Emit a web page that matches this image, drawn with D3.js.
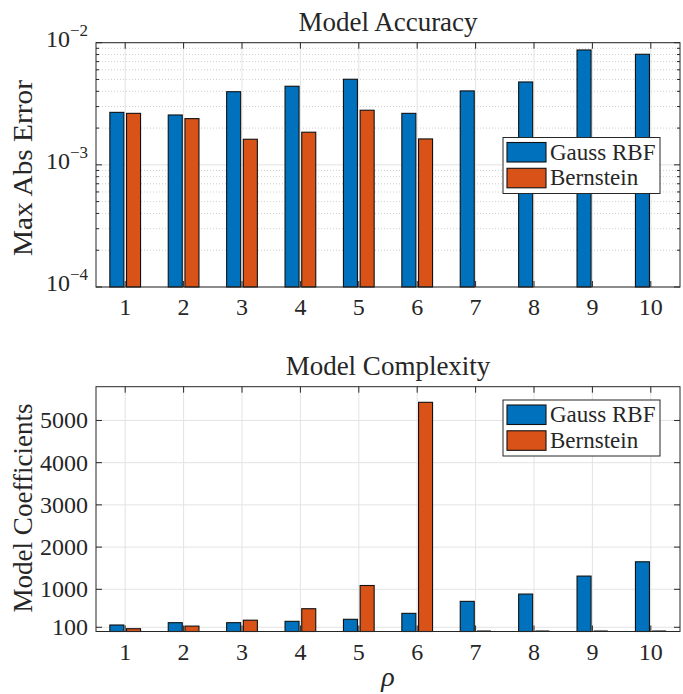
<!doctype html>
<html>
<head>
<meta charset="utf-8">
<title>Model Accuracy / Complexity</title>
<script src="https://cdn.jsdelivr.net/npm/d3@7"></script>
<style>
  html, body { margin: 0; padding: 0; background: #fff; }
  svg text { font-family: "Liberation Serif", "Times New Roman", serif; fill: #262626; }
</style>
</head>
<body>
<div id="fig"></div>
<script>
// data
var categories = [1, 2, 3, 4, 5, 6, 7, 8, 9, 10];
var seriesNames = ["Gauss RBF", "Bernstein"];
var accRBF  = [2.69e-3, 2.56e-3, 3.97e-3, 4.40e-3, 5.02e-3, 2.64e-3, 4.03e-3, 4.77e-3, 8.72e-3, 8.04e-3];
var accBern = [2.64e-3, 2.39e-3, 1.62e-3, 1.85e-3, 2.80e-3, 1.63e-3, null, null, null, null];
var coefRBF  = [154, 209, 209, 241, 289, 430, 714, 887, 1313, 1652];
var coefBern = [66, 128, 268, 540, 1090, 5430, 0, 0, 0, 0];
var accTicks  = [1e-4, 1e-3, 1e-2];
var accExp    = ["\u22124", "\u22123", "\u22122"];
var coefTicks = [100, 1000, 2000, 3000, 4000, 5000];
var colors = ["#0072BD", "#D95319"];

var W = 683, H = 694;
var svg = d3.select("#fig").append("svg").attr("width", W).attr("height", H);

var left = 96, right = 680;
var x = d3.scaleLinear().domain([0.5, 10.5]).range([left, right]);
var barW = 0.24, barOff = 0.143; // in category units
var axisCol = "#262626", gridCol = "#e3e3e3";

function panel(opt) {
  var g = svg.append("g");
  var y = opt.y, top = opt.top, bot = opt.bottom;

  // minor grid (log only)
  if (opt.minor) {
    g.selectAll(".mg").data(opt.minor).enter().append("line")
      .attr("x1", left).attr("x2", right)
      .attr("y1", function(d){ return y(d); }).attr("y2", function(d){ return y(d); })
      .attr("stroke", "#c8c8c8").attr("stroke-width", 0.9).attr("stroke-dasharray", "1,2");
  }
  // major grid
  g.selectAll(".hg").data(opt.ticks).enter().append("line")
    .attr("x1", left).attr("x2", right)
    .attr("y1", function(d){ return y(d); }).attr("y2", function(d){ return y(d); })
    .attr("stroke", gridCol).attr("stroke-width", 1);
  g.selectAll(".vg").data(categories).enter().append("line")
    .attr("x1", function(d){ return x(d); }).attr("x2", function(d){ return x(d); })
    .attr("y1", top).attr("y2", bot)
    .attr("stroke", gridCol).attr("stroke-width", 1);

  // bars
  var base = y.range()[0];
  [opt.a, opt.b].forEach(function(vals, s) {
    var off = s === 0 ? -barOff : barOff;
    vals.forEach(function(v, i) {
      if (v === null) return;
      var cx = categories[i] + off;
      var x0 = x(cx - barW / 2), x1 = x(cx + barW / 2);
      if (v <= 0) {
        g.append("line").attr("x1", x0).attr("x2", x1).attr("y1", base - 0.5).attr("y2", base - 0.5)
          .attr("stroke", "#000").attr("stroke-width", 1);
        return;
      }
      g.append("rect").attr("x", x0).attr("y", y(v))
        .attr("width", x1 - x0).attr("height", base - y(v))
        .attr("fill", colors[s]).attr("stroke", "#111").attr("stroke-width", 1.1);
    });
  });

  // box
  g.append("rect").attr("x", left).attr("y", top).attr("width", right - left).attr("height", bot - top)
    .attr("fill", "none").attr("stroke", axisCol).attr("stroke-width", 1);

  // x ticks (bottom and top, pointing in)
  categories.forEach(function(c) {
    g.append("line").attr("x1", x(c)).attr("x2", x(c)).attr("y1", bot).attr("y2", bot - 6).attr("stroke", axisCol);
    g.append("line").attr("x1", x(c)).attr("x2", x(c)).attr("y1", top).attr("y2", top + 6).attr("stroke", axisCol);
  });
  g.selectAll(".xl").data(categories).enter().append("text")
    .attr("x", function(d){ return x(d); }).attr("y", bot + 28)
    .attr("text-anchor", "middle").attr("font-size", 24).text(function(d){ return d; });

  // y ticks both sides
  opt.ticks.forEach(function(t) {
    g.append("line").attr("x1", left).attr("x2", left + 6).attr("y1", y(t)).attr("y2", y(t)).attr("stroke", axisCol);
    g.append("line").attr("x1", right).attr("x2", right - 6).attr("y1", y(t)).attr("y2", y(t)).attr("stroke", axisCol);
  });
  if (opt.minor) {
    opt.minor.forEach(function(t) {
      g.append("line").attr("x1", left).attr("x2", left + 3).attr("y1", y(t)).attr("y2", y(t)).attr("stroke", axisCol);
      g.append("line").attr("x1", right).attr("x2", right - 3).attr("y1", y(t)).attr("y2", y(t)).attr("stroke", axisCol);
    });
  }
  opt.ticks.forEach(function(t, i) {
    var tx = g.append("text").attr("x", left - 8).attr("y", y(t) + 8)
      .attr("text-anchor", "end").attr("font-size", 24);
    if (opt.exps) {
      tx.attr("y", y(t) + 4);
      tx.append("tspan").text("10");
      tx.append("tspan").attr("dy", -11).attr("font-size", 17).text(opt.exps[i]);
    } else {
      tx.text(t);
    }
  });

  // title and y label
  g.append("text").attr("x", (left + right) / 2).attr("y", top - 12)
    .attr("text-anchor", "middle").attr("font-size", 27).text(opt.title);
  g.append("text").attr("transform", "translate(32," + opt.ylabelY + ") rotate(-90)")
    .attr("text-anchor", "middle").attr("font-size", 27)
    .attr("textLength", opt.ylabelLen).attr("lengthAdjust", "spacingAndGlyphs")
    .text(opt.ylabel);

  // legend
  var lx = 503, ly = opt.legendY, lw = 157, lh = 56;
  g.append("rect").attr("x", lx).attr("y", ly).attr("width", lw).attr("height", lh)
    .attr("fill", "#fff").attr("stroke", axisCol).attr("stroke-width", 1);
  seriesNames.forEach(function(n, i) {
    var ry = ly + 5 + i * 25.8;
    g.append("rect").attr("x", lx + 4).attr("y", ry).attr("width", 39).attr("height", 19.5)
      .attr("fill", colors[i]).attr("stroke", "#111").attr("stroke-width", 1.1);
    g.append("text").attr("x", lx + 47).attr("y", ry + 17).attr("font-size", 23).text(n);
  });
}

// top: log scale
var yAcc = d3.scaleLog().domain([1e-4, 1e-2]).range([287, 42.7]);
var minorAcc = [];
[1e-4, 1e-3].forEach(function(d) { for (var k = 2; k <= 9; k++) minorAcc.push(d * k); });
panel({
  top: 42.7, bottom: 287, y: yAcc, ticks: accTicks, exps: accExp, minor: minorAcc,
  a: accRBF, b: accBern, title: "Model Accuracy", ylabel: "Max Abs Error",
  ylabelY: 168, ylabelLen: 176, legendY: 137.5
});

// bottom: linear scale
var yCoef = d3.scaleLinear().domain([0, 5800]).range([631.5, 386.7]);
panel({
  top: 386.7, bottom: 631.5, y: yCoef, ticks: coefTicks,
  a: coefRBF, b: coefBern, title: "Model Complexity", ylabel: "Model Coefficients",
  ylabelY: 508, ylabelLen: 209, legendY: 400
});

svg.append("text").attr("x", (left + right) / 2).attr("y", 686)
  .attr("text-anchor", "middle").attr("font-size", 28).attr("font-style", "italic").text("\u03c1");
</script>
</body>
</html>
